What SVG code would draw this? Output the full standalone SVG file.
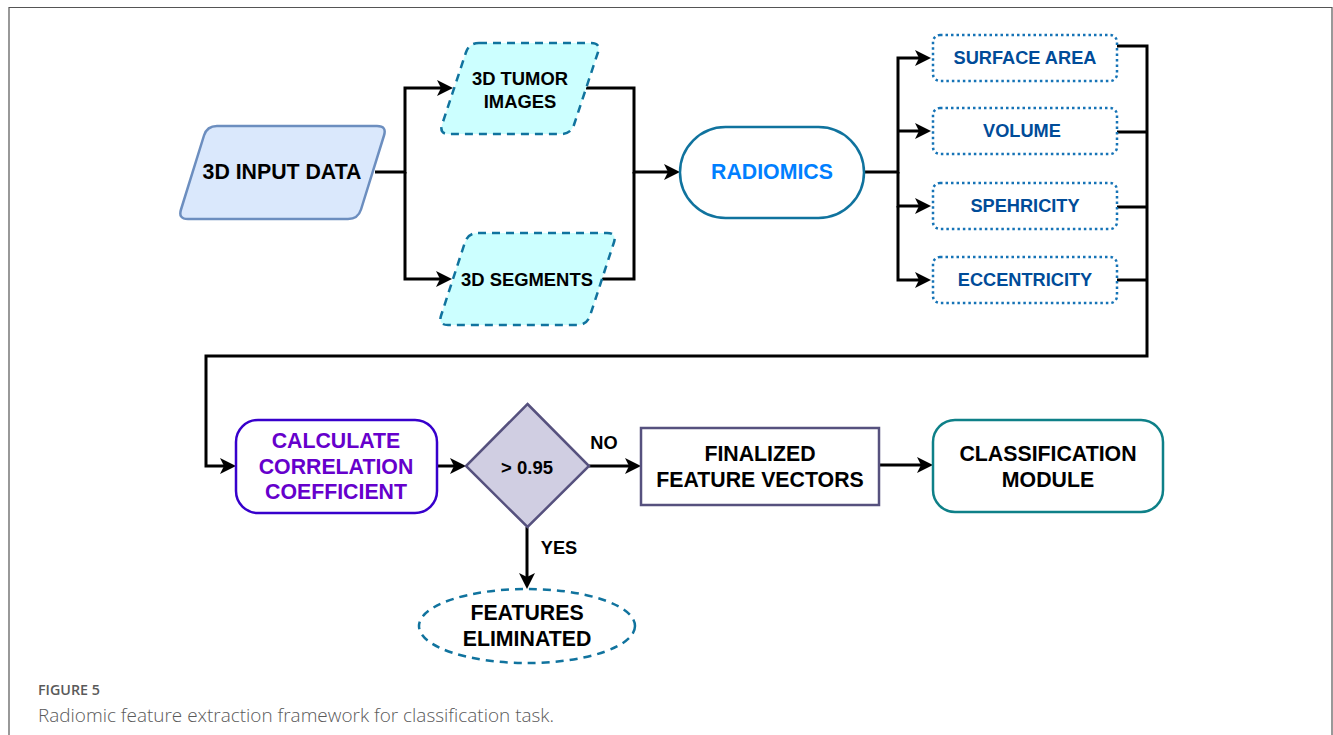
<svg xmlns="http://www.w3.org/2000/svg" width="1333" height="735" viewBox="0 0 1333 735">
  <style>
    .lbl { font-family: "Liberation Sans", Arial, sans-serif; font-weight: bold; text-anchor: middle; dominant-baseline: central; }
    .big { font-size: 21.3px; }
    .mid { font-size: 18.4px; }
    .sm { font-size: 18.2px; }
    .wire { fill: none; stroke: #000; stroke-width: 3; stroke-linejoin: miter; }
    .feat rect { fill: #fff; stroke: #1573b6; stroke-width: 2.5; stroke-dasharray: 2.5 3; }
    .feat text { fill: #004c99; }
    .cap { font-family: "Open Sans", "Liberation Sans", sans-serif; fill: #5a5a5a; }
  </style>
  <defs>
    <marker id="arrow" markerUnits="userSpaceOnUse" viewBox="-7 -9 18 18" refX="0" refY="0" markerWidth="18" markerHeight="18" orient="auto">
      <path d="M10,0 L-6,-8 L-2,0 L-6,8 Z" fill="#000"/>
    </marker>
  </defs>

  <rect width="1333" height="735" fill="#fff"/>
  <!-- figure frame -->
  <path d="M9,735 V7.5 H1332 V735" fill="none" stroke="#555" stroke-width="1.2"/>

  <!-- connectors -->
  <g id="connectors">
    <path class="wire" d="M375,172 H405 V88 H443" marker-end="url(#arrow)"/>
    <path class="wire" d="M405,172 V279 H442" marker-end="url(#arrow)"/>
    <path class="wire" d="M586,88 H634 V172 H670" marker-end="url(#arrow)"/>
    <path class="wire" d="M602,279 H634 V172"/>
    <path class="wire" d="M864,172 H898 V58 H921" marker-end="url(#arrow)"/>
    <path class="wire" d="M898,131 H921" marker-end="url(#arrow)"/>
    <path class="wire" d="M898,172 V206 H921" marker-end="url(#arrow)"/>
    <path class="wire" d="M898,206 V280 H921" marker-end="url(#arrow)"/>
    <path class="wire" d="M1117,46 H1147 V356 H206 V466 H226" marker-end="url(#arrow)"/>
    <path class="wire" d="M1117,132 H1147"/>
    <path class="wire" d="M1117,207 H1147"/>
    <path class="wire" d="M1117,280 H1147"/>
    <path class="wire" d="M437,466 H456" marker-end="url(#arrow)"/>
    <path class="wire" d="M589,466 H631" marker-end="url(#arrow)"/>
    <path class="wire" d="M527,527 V579" marker-end="url(#arrow)"/>
    <path class="wire" d="M880,465 H923" marker-end="url(#arrow)"/>
  </g>

  <!-- input -->
  <g id="input-data">
    <path d="M217,126 H377 Q387,126 384,135.5 L361,209.5 Q358,219 348,219 H188 Q178,219 181,209.5 L204,135.5 Q207,126 217,126 Z" fill="#dae8fc" stroke="#6c8ebf" stroke-width="2.5"/>
    <text class="lbl big" x="282" y="172">3D INPUT DATA</text>
  </g>

  <g id="tumor-images">
    <path d="M479,43 H591 Q601,43 597.9,52.5 L574.1,124.5 Q571,134 561,134 H449 Q439,134 442.1,124.5 L465.9,52.5 Q469,43 479,43 Z" fill="#ccffff" stroke="#10739e" stroke-width="2.5" stroke-dasharray="8 6"/>
    <text class="lbl mid" x="520" y="78">3D TUMOR</text>
    <text class="lbl mid" x="520" y="101">IMAGES</text>
  </g>

  <g id="segments">
    <path d="M478,233 H607 Q617,233 613.9,242.5 L590.1,315.5 Q587,325 577,325 H448 Q438,325 441.1,315.5 L464.9,242.5 Q468,233 478,233 Z" fill="#ccffff" stroke="#10739e" stroke-width="2.5" stroke-dasharray="8 6"/>
    <text class="lbl mid" x="527" y="279">3D SEGMENTS</text>
  </g>

  <g id="radiomics">
    <rect x="680" y="127" width="184" height="91" rx="45.5" fill="#fff" stroke="#10739e" stroke-width="2.5"/>
    <text class="lbl big" x="772" y="172" fill="#007fff">RADIOMICS</text>
  </g>

  <!-- shape features -->
  <g id="surface-area" class="feat">
    <rect x="933" y="35" width="184" height="46" rx="7"/>
    <text class="lbl sm" x="1025" y="58">SURFACE AREA</text>
  </g>
  <g id="volume" class="feat">
    <rect x="933" y="108" width="184" height="46" rx="7"/>
    <text class="lbl sm" x="1022" y="131">VOLUME</text>
  </g>
  <g id="sphericity" class="feat">
    <rect x="933" y="183" width="184" height="46" rx="7"/>
    <text class="lbl sm" x="1025" y="206">SPEHRICITY</text>
  </g>
  <g id="eccentricity" class="feat">
    <rect x="933" y="257" width="184" height="46" rx="7"/>
    <text class="lbl sm" x="1025" y="280">ECCENTRICITY</text>
  </g>

  <g id="correlation">
    <rect x="236" y="420" width="201" height="93" rx="22" fill="#fff" stroke="#3700cc" stroke-width="2.5"/>
    <text class="lbl big" x="336" y="441" fill="#6600cc">CALCULATE</text>
    <text class="lbl big" x="336" y="467" fill="#6600cc">CORRELATION</text>
    <text class="lbl big" x="336" y="492" fill="#6600cc">COEFFICIENT</text>
  </g>

  <g id="threshold">
    <path d="M527.5,404 L589,466 L527.5,527 L466,466 Z" fill="#d0cee2" stroke="#56517e" stroke-width="2.5"/>
    <text class="lbl" x="527" y="467" font-size="18.5">&gt; 0.95</text>
  </g>
  <text class="lbl sm" x="604" y="443">NO</text>
  <text class="lbl sm" x="559" y="548">YES</text>

  <g id="eliminated">
    <ellipse cx="527" cy="626" rx="108" ry="37" fill="#fff" stroke="#10739e" stroke-width="2.5" stroke-dasharray="8 6"/>
    <text class="lbl big" x="527" y="613">FEATURES</text>
    <text class="lbl big" x="527" y="639">ELIMINATED</text>
  </g>

  <g id="feature-vectors">
    <rect x="641" y="428" width="238" height="77" fill="#fff" stroke="#56517e" stroke-width="2.5"/>
    <text class="lbl big" x="760" y="454">FINALIZED</text>
    <text class="lbl big" x="760" y="480">FEATURE VECTORS</text>
  </g>

  <g id="classification">
    <rect x="933" y="420" width="230" height="92" rx="22" fill="#fff" stroke="#0e8088" stroke-width="2.5"/>
    <text class="lbl big" x="1048" y="454">CLASSIFICATION</text>
    <text class="lbl big" x="1048" y="480">MODULE</text>
  </g>

  <!-- caption -->
  <text class="cap" x="38" y="695" font-size="14" font-weight="600" fill="#666" textLength="62" lengthAdjust="spacingAndGlyphs">FIGURE 5</text>
  <text class="cap" x="38" y="722" font-size="18" font-weight="300" textLength="516" lengthAdjust="spacingAndGlyphs">Radiomic feature extraction framework for classification task.</text>
</svg>
